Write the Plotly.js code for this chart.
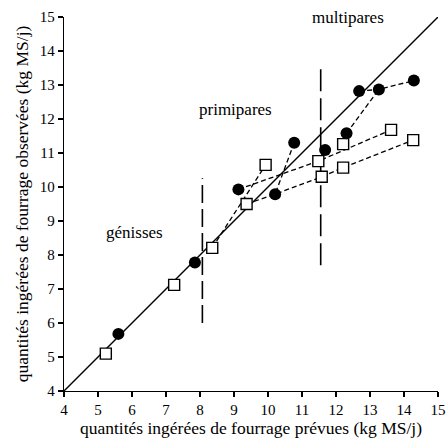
<!DOCTYPE html>
<html>
<head>
<meta charset="utf-8">
<script src="https://cdn.plot.ly/plotly-3.0.1.min.js"></script>
<style>html,body{margin:0;padding:0;background:#fff;}#chart{width:448px;height:440px;}</style>
</head>
<body>
<div id="chart"></div>
<script>
// Filled circles
const circX = [5.60, 7.85, 9.13, 10.21, 10.77, 11.68, 12.31, 12.68, 13.26, 14.29];
const circY = [5.68, 7.78, 9.93, 9.79, 11.30, 11.09, 11.58, 12.82, 12.87, 13.13];
// Open squares
const sqX = [5.23, 7.24, 8.36, 9.37, 9.93, 11.48, 11.58, 12.21, 12.21, 13.62, 14.27];
const sqY = [5.10, 7.12, 8.21, 9.50, 10.65, 10.76, 10.30, 11.26, 10.57, 11.68, 11.38];
// Dashed links between points
const linkAX = [9.13, 11.48, 13.62];              const linkAY = [9.93, 10.76, 11.68];
const linkBX = [8.36, 9.93];                      const linkBY = [8.21, 10.65];
const linkCX = [9.37, 10.21, 11.58, 12.21, 14.27]; const linkCY = [9.50, 9.79, 10.30, 10.57, 11.38];
const linkDX = [10.77, 10.21];                    const linkDY = [11.30, 9.79];
const linkEX = [12.31, 13.26];                    const linkEY = [11.58, 12.87];
const linkFX = [12.68, 13.26, 14.29];             const linkFY = [12.82, 12.87, 13.13];
// Bisector y = x
const diagX = [4, 15]; const diagY = [4, 15];
// Group separators
const sep1X = [8.07, 8.07];   const sep1Y = [6.0, 10.26];
const sep2X = [11.55, 11.55]; const sep2Y = [7.7, 13.55];
// Group labels
const groupLabels = ["génisses", "primipares", "multipares"];
const groupLabelX = [6.06, 9.03, 12.35];
const groupLabelY = [8.65, 12.29, 14.98];
const ticks = [4,5,6,7,8,9,10,11,12,13,14,15];

const FONT = "Liberation Serif, Times New Roman, serif";
const dashLine = {color:'#000', width:1.3, dash:'5px,3px'};
function link(x,y){return {x:x,y:y,mode:'lines',type:'scatter',line:dashLine,hoverinfo:'skip',showlegend:false};}

const traces = [
  {x:diagX, y:diagY, mode:'lines', type:'scatter', line:{color:'#000', width:1.4}, showlegend:false},
  {x:sep1X, y:sep1Y, mode:'lines', type:'scatter', line:{color:'#000', width:1.6, dash:'18px,6px'}, showlegend:false},
  {x:sep2X, y:sep2Y, mode:'lines', type:'scatter', line:{color:'#000', width:1.6, dash:'22px,7px'}, showlegend:false},
  link(linkAX, linkAY), link(linkBX, linkBY), link(linkCX, linkCY),
  link(linkDX, linkDY), link(linkEX, linkEY), link(linkFX, linkFY),
  {x:sqX, y:sqY, mode:'markers', type:'scatter', marker:{symbol:'square', size:11, color:'#fff', line:{color:'#000', width:1.4}}, showlegend:false},
  {x:circX, y:circY, mode:'markers', type:'scatter', marker:{symbol:'circle', size:12, color:'#000', line:{width:0}}, showlegend:false}
];

const baseAxis = {range:[4,15], tickvals:ticks, showgrid:false, zeroline:false, showline:true,
  linecolor:'#000', linewidth:1.3, ticks:'outside', ticklen:5, tickwidth:1.2, tickcolor:'#000',
  tickfont:{family:FONT, size:15, color:'#000'}, fixedrange:true};

const layout = {
  width:448, height:440,
  margin:{l:64, r:10, t:17, b:49},
  paper_bgcolor:'#fff', plot_bgcolor:'#fff',
  showlegend:false,
  xaxis:Object.assign({}, baseAxis, {title:{text:'quantités ingérées de fourrage prévues (kg MS/j)', font:{family:FONT, size:17.5, color:'#000'}, standoff:4}}),
  yaxis:Object.assign({}, baseAxis, {title:{text:'quantités ingérées de fourrage observées (kg MS/j)', font:{family:FONT, size:17.5, color:'#000'}, standoff:6}}),
  xaxis2:{overlaying:'x', range:[4,15], tickvals:ticks, showgrid:false, zeroline:false, showline:false, ticks:'inside', ticklen:3, tickwidth:1.2, tickcolor:'#000', showticklabels:false, side:'bottom', anchor:'y'},
  yaxis2:{overlaying:'y', range:[4,15], tickvals:ticks, showgrid:false, zeroline:false, showline:false, ticks:'inside', ticklen:3, tickwidth:1.2, tickcolor:'#000', showticklabels:false, side:'left', anchor:'x'},
  annotations: groupLabels.map((t,i)=>({text:t, x:groupLabelX[i], y:groupLabelY[i], xref:'x', yref:'y', showarrow:false, font:{family:FONT, size:17, color:'#000'}}))
};

Plotly.newPlot('chart', traces, layout, {displayModeBar:false, staticPlot:true});
</script>
</body>
</html>
